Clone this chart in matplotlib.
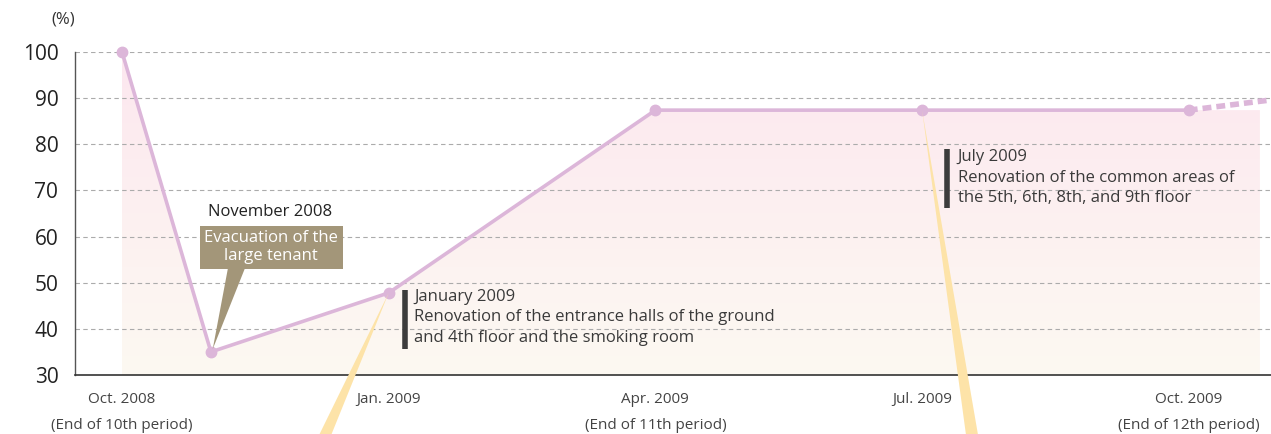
import numpy as np
import matplotlib.pyplot as plt
from matplotlib.patches import Polygon
from matplotlib.colors import LinearSegmentedColormap

plt.rcParams['font.family'] = ['Open Sans', 'DejaVu Sans']

# occupancy rate (%) by month index (0 = Oct. 2008)
months = [0, 1, 3, 6, 9, 12]
occupancy = [100, 35.0, 47.8, 87.4, 87.4, 87.4]
# forecast (dashed) beyond the end of the 12th period
forecast_months = [12, 12.92]
forecast_values = [87.4, 89.6]

tick_months = [0, 3, 6, 9, 12]
tick_labels = ['Oct. 2008\n(End of 10th period)', 'Jan. 2009', 'Apr. 2009\n(End of 11th period)',
               'Jul. 2009', 'Oct. 2009\n(End of 12th period)']
yticks = [30, 40, 50, 60, 70, 80, 90, 100]

line_col = '#dcb6d9'
text_col = '#3a3a3a'

fig = plt.figure(figsize=(12.71, 4.34), dpi=100)
ax = fig.add_axes([75 / 1271, 1 - 375 / 434, 1 - 75 / 1271, (375 - 52) / 434])
ax.set_xlim(-0.529, 12.925)
ax.set_ylim(30, 100)

# gradient fill under the line
fill_end = months[-1] + 0.8
px = months + [fill_end, fill_end, months[0]]
py = occupancy + [occupancy[-1], 30, 30]
cmap = LinearSegmentedColormap.from_list('g', ['#fdf9f2', '#fce7ef'])
grad = np.linspace(0, 1, 256).reshape(-1, 1)
im = ax.imshow(grad, extent=[months[0], fill_end, 30, 100], origin='lower', cmap=cmap,
               aspect='auto', zorder=0)
poly = Polygon(list(zip(px, py)), closed=True, transform=ax.transData, facecolor='none', edgecolor='none')
ax.add_patch(poly)
im.set_clip_path(poly)

for y in yticks[1:]:
    ax.axhline(y, color='#ababab', lw=0.8, ls=(0, (4, 3)), zorder=1)

# yellow beams from Jan and Jul points down to the bottom
def beam(xm, ym, x_bottom):
    tip = ax.transData.transform((xm, ym))
    b = ax.transData.transform((x_bottom, 30))
    tr = fig.transFigure.inverted()
    p0 = tr.transform(tip)
    bx = tr.transform(b)[0]
    w = 6 / 1271
    fig.patches.append(Polygon([p0, (bx - w, 0), (bx + w, 0)], closed=True,
                               transform=fig.transFigure, facecolor='#fde3a8', edgecolor='none',
                               zorder=2))

beam(months[2], occupancy[2], 2.29)
beam(months[4], occupancy[4], 9.56)

ax.plot(months, occupancy, color=line_col, lw=2.6, marker='o', ms=7.5, zorder=5, clip_on=False)
ax.plot(forecast_months, forecast_values, color=line_col, lw=4, ls=(0, (1.6, 0.9)), zorder=5,
        clip_on=False, solid_capstyle='butt')

# axes styling
for s in ['top', 'right']:
    ax.spines[s].set_visible(False)
ax.spines['left'].set_color('#555555')
ax.spines['bottom'].set_color('#333333')
ax.spines['left'].set_linewidth(1.0)
ax.spines['bottom'].set_linewidth(1.2)
ax.set_yticks(yticks)
ax.set_yticklabels([str(v) for v in yticks], fontsize=15, color='#222222')
ax.set_xticks(tick_months)
ax.set_xticklabels(tick_labels, fontsize=11, color='#444444', va='top', linespacing=2.0)
ax.tick_params(axis='both', length=0)
ax.tick_params(axis='y', pad=12)
ax.tick_params(axis='x', pad=12)
fig.text(63 / 1271, 1 - 20 / 434, '(%)', fontsize=12, color='#333333', ha='center', va='center')

# November 2008 callout
ax.text(1.67, 65.3, 'November 2008', fontsize=12, color='#222222', ha='center', va='center')
ax.text(1.68, 57.7, 'Evacuation of the\nlarge tenant', fontsize=12, color='white', ha='center',
        va='center', linespacing=1.15, zorder=7,
        bbox=dict(boxstyle='square,pad=0.28', facecolor='#a39679', edgecolor='none'))
ax.add_patch(Polygon([(1.19, 53.0), (1.38, 53.0), (1.02, 35.6)], closed=True, facecolor='#a39679',
                     edgecolor='none', zorder=6))

# January 2009 note
ax.plot([3.18, 3.18], [35.7, 48.5], color='#3c3c3c', lw=4, solid_capstyle='butt', zorder=6)
ax.text(3.29, 48.6, 'January 2009\nRenovation of the entrance halls of the ground\nand 4th floor and the smoking room',
        fontsize=12, color=text_col, ha='left', va='top', linespacing=1.35, zorder=7)

# July 2009 note
ax.plot([9.28, 9.28], [66.3, 79.0], color='#3c3c3c', lw=4, solid_capstyle='butt', zorder=6)
ax.text(9.40, 78.9, 'July 2009\nRenovation of the common areas of\nthe 5th, 6th, 8th, and 9th floor',
        fontsize=12, color=text_col, ha='left', va='top', linespacing=1.35, zorder=7)

fig.savefig('out.png', dpi=100)
